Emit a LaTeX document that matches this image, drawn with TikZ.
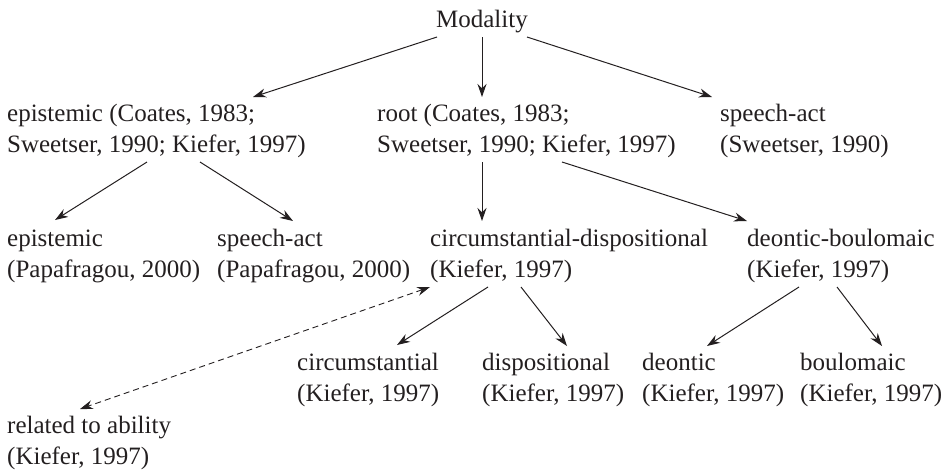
\documentclass[tikz,border=0pt]{standalone}
\usepackage{fontspec}
\setmainfont{Liberation Serif}
\usepackage{xcolor}
\usepackage{tikz}
\usetikzlibrary{positioning,arrows.meta}
\definecolor{ink}{RGB}{35,31,32}

\begin{document}
\begin{tikzpicture}[x=1pt, y=-1pt,
    lbl/.style={inner sep=0pt, anchor=base west, align=left, text=ink,
                font=\fontsize{25}{31}\selectfont},
    arr/.style={draw=ink, line width=1pt, -{Stealth[length=13pt,width=9pt]}},
    darr/.style={draw=ink, line width=0.9pt, dash pattern=on 6pt off 4pt,
                 {Stealth[length=13pt,width=9pt]}-{Stealth[length=13pt,width=9pt]}}]
    \useasboundingbox (0,0) rectangle (945,472);
    % top level
    \node[lbl, anchor=base] (mod) at (482,27) {Modality};
    % second row (anchored on the last line)
    \node[lbl] (epi) at (7,152) {epistemic (Coates, 1983;\\Sweetser, 1990; Kiefer, 1997)};
    \node[lbl] (root) at (377,152) {root (Coates, 1983;\\Sweetser, 1990; Kiefer, 1997)};
    \node[lbl] (spa) at (720,152) {speech-act\\(Sweetser, 1990)};
    % third row
    \node[lbl] (epipap) at (7,277) {epistemic\\(Papafragou, 2000)};
    \node[lbl] (spapap) at (217,277) {speech-act\\(Papafragou, 2000)};
    \node[lbl] (cidi) at (430,277) {circumstantial-dispositional\\(Kiefer, 1997)};
    \node[lbl] (debo) at (747,277) {deontic-boulomaic\\(Kiefer, 1997)};
    % fourth row
    \node[lbl] (circ) at (297,401) {circumstantial\\(Kiefer, 1997)};
    \node[lbl] (disp) at (482,401) {dispositional\\(Kiefer, 1997)};
    \node[lbl] (deon) at (642,401) {deontic\\(Kiefer, 1997)};
    \node[lbl] (boul) at (800,401) {boulomaic\\(Kiefer, 1997)};
    \node[lbl] (abil) at (7,464) {related to ability\\(Kiefer, 1997)};

    % Modality branches
    \draw[arr] ([xshift=-45pt,yshift=-10pt]mod.base) -- ([xshift=246pt,yshift=55pt]epi.base west);
    \draw[arr] ([yshift=-10pt]mod.base) -- ([xshift=105pt,yshift=55pt]root.base west);
    \draw[arr] ([xshift=45pt,yshift=-10pt]mod.base) -- ([xshift=-8pt,yshift=55pt]spa.base west);
    % epistemic and root
    \draw[arr] ([xshift=140pt,yshift=-10pt]epi.base west) -- ([xshift=48pt,yshift=57pt]epipap.base west);
    \draw[arr] ([xshift=193pt,yshift=-10pt]epi.base west) -- ([xshift=76pt,yshift=56pt]spapap.base west);
    \draw[arr] ([xshift=105pt,yshift=-10pt]root.base west) -- ([xshift=52pt,yshift=56pt]cidi.base west);
    \draw[arr] ([xshift=185pt,yshift=-10pt]root.base west) -- ([yshift=56pt]debo.base west);
    % lowest level
    \draw[arr] ([xshift=58pt,yshift=-10pt]cidi.base west) -- ([xshift=100pt,yshift=56pt]circ.base west);
    \draw[arr] ([xshift=91pt,yshift=-10pt]cidi.base west) -- ([xshift=85pt,yshift=55pt]disp.base west);
    \draw[arr] ([xshift=52pt,yshift=-10pt]debo.base west) -- ([xshift=65pt,yshift=55pt]deon.base west);
    \draw[arr] ([xshift=90pt,yshift=-10pt]debo.base west) -- ([xshift=82pt,yshift=55pt]boul.base west);
    % ability link
    \draw[darr] ([yshift=-10pt]cidi.base west) -- ([xshift=73pt,yshift=55pt]abil.base west);
\end{tikzpicture}
\end{document}
